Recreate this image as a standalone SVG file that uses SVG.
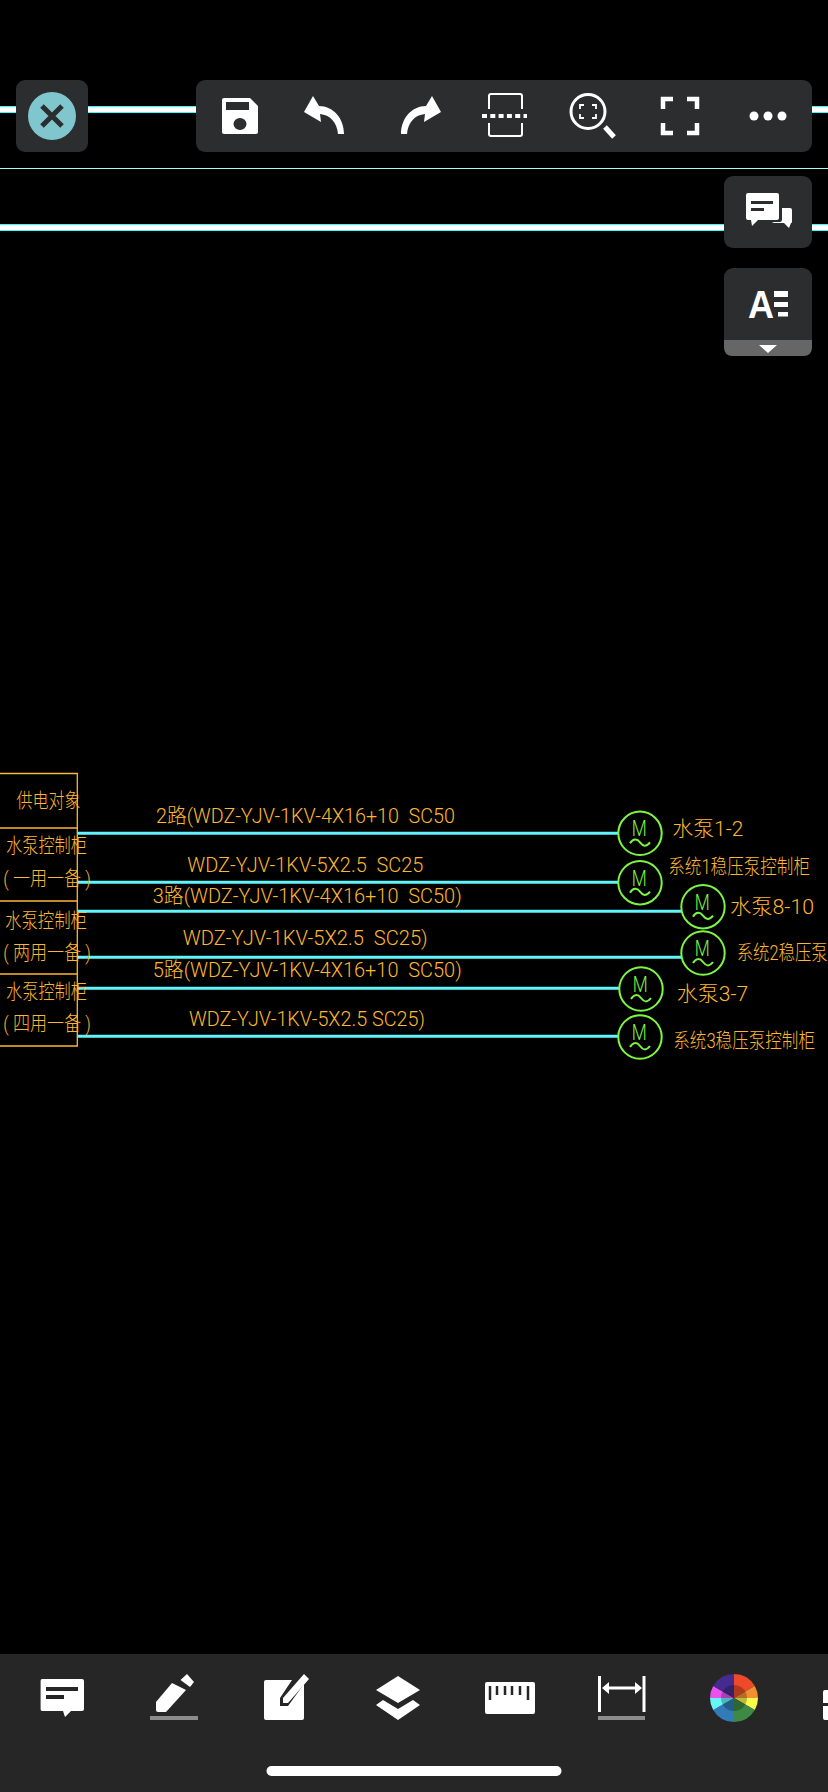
<svg xmlns="http://www.w3.org/2000/svg" width="828" height="1792" viewBox="0 0 828 1792">
<defs>
<style>
.t{font-family:Roboto,"Noto Sans CJK SC",sans-serif;fill:#ffb733;font-weight:300;white-space:pre}
.tb{font-size:20px}
.cj{font-size:20px}
.cell{fill:none;stroke:#ffb733;stroke-width:1.3}
.w{stroke:#62f4fb;stroke-width:3;fill:none}
.c{fill:none;stroke:#7df542;stroke-width:2}
.m{font-family:Roboto,sans-serif;font-weight:300;font-size:22px;fill:#7df542}
.panel{fill:#2b2d2e}
.iw{fill:#fff}
.is{fill:none;stroke:#fff}
.dark{fill:#2b2d2e}
.bw{fill:#fff;stroke:#3ff;stroke-width:1}
</style>
</defs>
<rect width="828" height="1792" fill="#000"/>
<g id="canvas-lines">
<rect class="bw" x="-2" y="106.5" width="832" height="6"/>
<rect x="0" y="168" width="828" height="1" fill="#a8fbfd"/>
<rect class="bw" x="-2" y="224.5" width="832" height="6"/>
</g>
<g id="connectors">
<line class="w" x1="77" y1="833.3" x2="618" y2="833.3"/>
<line class="w" x1="77" y1="882.3" x2="618" y2="882.3"/>
<line class="w" x1="77" y1="911.3" x2="682" y2="911.3"/>
<line class="w" x1="77" y1="957.3" x2="682" y2="957.3"/>
<line class="w" x1="77" y1="988.3" x2="620" y2="988.3"/>
<line class="w" x1="77" y1="1036.3" x2="618" y2="1036.3"/>
</g>
<g id="table">
<path class="cell" d="M0 773.5H77.3V1046H0M0 828H77.3M0 901H77.3M0 974H77.3"/>
<text class="t cj" x="16.500" y="808" textLength="64" lengthAdjust="spacingAndGlyphs">供电对象</text>
<text class="t cj" x="6" y="853" textLength="81" lengthAdjust="spacingAndGlyphs">水泵控制柜</text>
<text class="t cj" x="3.300" y="886" textLength="87.5" lengthAdjust="spacingAndGlyphs">( 一用一备 )</text>
<text class="t cj" x="5" y="928" textLength="82" lengthAdjust="spacingAndGlyphs">水泵控制柜</text>
<text class="t cj" x="3.300" y="960" textLength="87.5" lengthAdjust="spacingAndGlyphs">( 两用一备 )</text>
<text class="t cj" x="6" y="999" textLength="81" lengthAdjust="spacingAndGlyphs">水泵控制柜</text>
<text class="t cj" x="3.300" y="1031" textLength="87.5" lengthAdjust="spacingAndGlyphs">( 四用一备 )</text>
</g>
<g id="cable-labels">
<text class="t tb" x="156" y="822.700" textLength="299" lengthAdjust="spacingAndGlyphs">2路(WDZ-YJV-1KV-4X16+10  SC50</text>
<text class="t tb" x="187.300" y="871.700" textLength="236" lengthAdjust="spacingAndGlyphs">WDZ-YJV-1KV-5X2.5  SC25</text>
<text class="t tb" x="152.700" y="903" textLength="309" lengthAdjust="spacingAndGlyphs">3路(WDZ-YJV-1KV-4X16+10  SC50)</text>
<text class="t tb" x="182.700" y="945" textLength="245" lengthAdjust="spacingAndGlyphs">WDZ-YJV-1KV-5X2.5  SC25)</text>
<text class="t tb" x="152.700" y="977" textLength="309" lengthAdjust="spacingAndGlyphs">5路(WDZ-YJV-1KV-4X16+10  SC50)</text>
<text class="t tb" x="189" y="1026" textLength="236" lengthAdjust="spacingAndGlyphs">WDZ-YJV-1KV-5X2.5 SC25)</text>
</g>
<g id="motor-1" transform="translate(640,833.3)"><circle class="c" r="21.7"/><text class="m" x="-8.300" y="3" textLength="15" lengthAdjust="spacingAndGlyphs">M</text><path class="c" d="M-10 10C-7 5-3 5 0 9S6 14 10 9"/></g>
<g id="motor-2" transform="translate(640,882.7)"><circle class="c" r="21.7"/><text class="m" x="-8.300" y="3" textLength="15" lengthAdjust="spacingAndGlyphs">M</text><path class="c" d="M-10 10C-7 5-3 5 0 9S6 14 10 9"/></g>
<g id="motor-3" transform="translate(703,906.7)"><circle class="c" r="21.7"/><text class="m" x="-8.300" y="3" textLength="15" lengthAdjust="spacingAndGlyphs">M</text><path class="c" d="M-10 10C-7 5-3 5 0 9S6 14 10 9"/></g>
<g id="motor-4" transform="translate(703,953)"><circle class="c" r="21.7"/><text class="m" x="-8.300" y="3" textLength="15" lengthAdjust="spacingAndGlyphs">M</text><path class="c" d="M-10 10C-7 5-3 5 0 9S6 14 10 9"/></g>
<g id="motor-5" transform="translate(641,989)"><circle class="c" r="21.7"/><text class="m" x="-8.300" y="3" textLength="15" lengthAdjust="spacingAndGlyphs">M</text><path class="c" d="M-10 10C-7 5-3 5 0 9S6 14 10 9"/></g>
<g id="motor-6" transform="translate(640,1037)"><circle class="c" r="21.7"/><text class="m" x="-8.300" y="3" textLength="15" lengthAdjust="spacingAndGlyphs">M</text><path class="c" d="M-10 10C-7 5-3 5 0 9S6 14 10 9"/></g>
<g id="motor-labels">
<text class="t cj" x="672.300" y="836" textLength="71" lengthAdjust="spacingAndGlyphs">水泵1-2</text>
<text class="t cj" x="668.300" y="874" textLength="141.7" lengthAdjust="spacingAndGlyphs">系统1稳压泵控制柜</text>
<text class="t cj" x="730" y="914" textLength="84" lengthAdjust="spacingAndGlyphs">水泵8-10</text>
<text class="t cj" x="736.700" y="960" textLength="91" lengthAdjust="spacingAndGlyphs">系统2稳压泵</text>
<text class="t cj" x="676.700" y="1001" textLength="71.6" lengthAdjust="spacingAndGlyphs">水泵3-7</text>
<text class="t cj" x="673.300" y="1048" textLength="141.7" lengthAdjust="spacingAndGlyphs">系统3稳压泵控制柜</text>
</g>
<g id="close-button">
<rect class="panel" x="16" y="80" width="72" height="72" rx="9"/>
<circle cx="52" cy="116" r="24" fill="#7fc6ce"/>
<path d="M42 106L62 126M62 106L42 126" stroke="#2b2d2e" stroke-width="5" fill="none"/>
</g>
<g id="top-toolbar">
<rect class="panel" x="196" y="80" width="616" height="72" rx="9"/>
<path class="iw" d="M224 98H250L258 106V132Q258 134 256 134H224Q222 134 222 132V100Q222 98 224 98Z"/>
<rect class="dark" x="226" y="102" width="23" height="8"/>
<ellipse class="dark" cx="240" cy="124" rx="6.500" ry="6"/>
<path class="iw" d="M313 96L304 112L321 122L320 114C330 115 337 122 338 134H344C344 118 333 106 319 106Z"/>
<path class="iw" d="M432 96L441 112L424 122L425 114C415 115 408 122 407 134H401C401 118 412 106 426 106Z"/>
<path class="is" stroke-width="2" d="M489 109V96Q489 94 491 94H520Q522 94 522 96V109M489 123V134Q489 136 491 136H520Q522 136 522 134V123"/>
<path class="is" stroke-width="4" stroke-dasharray="5 3.3" d="M482 116H527"/>
<circle class="is" stroke-width="3" cx="588" cy="111.500" r="17"/>
<path class="is" stroke-width="5" d="M605 127L614 137"/>
<path class="is" stroke-width="1.800" d="M580 109V105H584M592 105H596V109M596 114V118H592M584 118H580V114"/>
<path class="is" stroke-width="4.500" d="M663 109V99H673M687 99H697V109M697 123V133H687M673 133H663V123"/>
<circle class="iw" cx="754" cy="116" r="4.500"/><circle class="iw" cx="768" cy="116" r="4.500"/><circle class="iw" cx="782" cy="116" r="4.500"/>
</g>
<g id="comments-button">
<rect class="panel" x="724" y="176" width="88" height="72" rx="9"/>
<path class="iw" d="M748 193H777Q779 193 779 195V218Q779 220 777 220H758L752 226L751 220H748Q746 220 746 218V195Q746 193 748 193Z"/>
<rect class="dark" x="751" y="201" width="22" height="3"/>
<rect class="dark" x="751" y="208" width="13" height="3"/>
<path class="iw" d="M782 208H790Q792 208 792 210V222Q792 223 791 223L789 228L784 223H775Q773 223 772 222H780Q782 222 782 219Z"/>
</g>
<g id="text-button">
<rect class="panel" x="724" y="268" width="88" height="88" rx="9"/>
<path fill="#666" d="M724 340H812V347Q812 356 803 356H733Q724 356 724 347Z"/>
<text x="748" y="318" font-family="Liberation Sans, sans-serif" font-size="39" font-weight="bold" fill="#fff" textLength="26" lengthAdjust="spacingAndGlyphs">A</text>
<rect class="iw" x="774" y="291" width="14" height="6"/>
<rect class="iw" x="774" y="302" width="14" height="5"/>
<rect class="iw" x="778" y="312" width="10" height="4.500"/>
<path class="iw" d="M759 345H777L768 353Z"/>
</g>
<g id="bottom-toolbar">
<rect x="0" y="1654" width="828" height="138" fill="#262626"/>
<path class="iw" d="M42 1679H82Q84 1679 84 1681V1709Q84 1711 82 1711H71L65 1717L63 1711H42Q40.600 1711 40.600 1709V1681Q40.600 1679 42 1679Z"/>
<rect x="46" y="1687" width="32" height="4" fill="#262626"/>
<rect x="46" y="1695" width="18" height="4" fill="#262626"/>
<path class="iw" d="M172 1683L186 1690L166 1712H158Q156 1712 156 1710V1702Z"/>
<path class="iw" d="M187 1674L194 1682L190 1687L180.500 1680Z"/>
<rect x="150" y="1716" width="48" height="4" fill="#8c8c8c"/>
<path class="iw" d="M266 1680H292L280 1698V1706H288L304 1684V1718Q304 1720 302 1720H266Q264 1720 264 1718V1682Q264 1680 266 1680Z"/>
<path class="iw" d="M304 1674L309 1679L288 1703H283V1698Z"/>
<path class="iw" d="M398 1676L420 1690L398 1703L376 1690Z"/>
<path class="iw" d="M383 1700L398 1709L413 1700L420 1705L398 1720L376 1705Z"/>
<path class="iw" d="M487 1682H533Q535 1682 535 1684V1712Q535 1714 533 1714H487Q485 1714 485 1712V1684Q485 1682 487 1682Z"/>
<path stroke="#262626" stroke-width="2.500" fill="none" d="M490 1686V1700M497 1686V1695M505 1686V1695M512 1686V1695M520 1686V1695M528 1686V1700"/>
<path class="is" stroke-width="3" d="M599.500 1676V1712M644 1676V1712"/>
<path class="is" stroke-width="3" d="M604 1688H640"/>
<path class="iw" d="M602 1688L609 1682V1694ZM642 1688L635 1682V1694Z"/>
<rect x="598" y="1716" width="47" height="4" fill="#8c8c8c"/>
<g id="colour-wheel" transform="translate(734,1698)">
<path fill="#ec4a2a" d="M0 0V-24A24 24 0 0 1 20.800-12Z"/>
<path fill="#f2902f" d="M0 0L20.800-12A24 24 0 0 1 24 0Z"/>
<path fill="#fafa4e" d="M0 0H24A24 24 0 0 1 20.800 12Z"/>
<path fill="#3d8a45" d="M0 0L20.800 12A24 24 0 0 1 0 24Z"/>
<path fill="#327ab8" d="M0 0V24A24 24 0 0 1-20.800 12Z"/>
<path fill="#66f6f8" d="M0 0L-20.800 12A24 24 0 0 1-24 0Z"/>
<path fill="#e752f0" d="M0 0H-24A24 24 0 0 1-20.800-12Z"/>
<path fill="#452b8e" d="M0 0L-20.800-12A24 24 0 0 1 0-24Z"/>
<circle r="13" fill="#000" opacity=".25"/>
</g>
<path class="iw" d="M828 1690H825Q823 1690 823 1692V1703H828ZM828 1706H823V1718Q823 1720 825 1720H828Z"/>
<rect x="266.500" y="1766" width="295" height="10" rx="5" fill="#fff"/>
</g>
</svg>
